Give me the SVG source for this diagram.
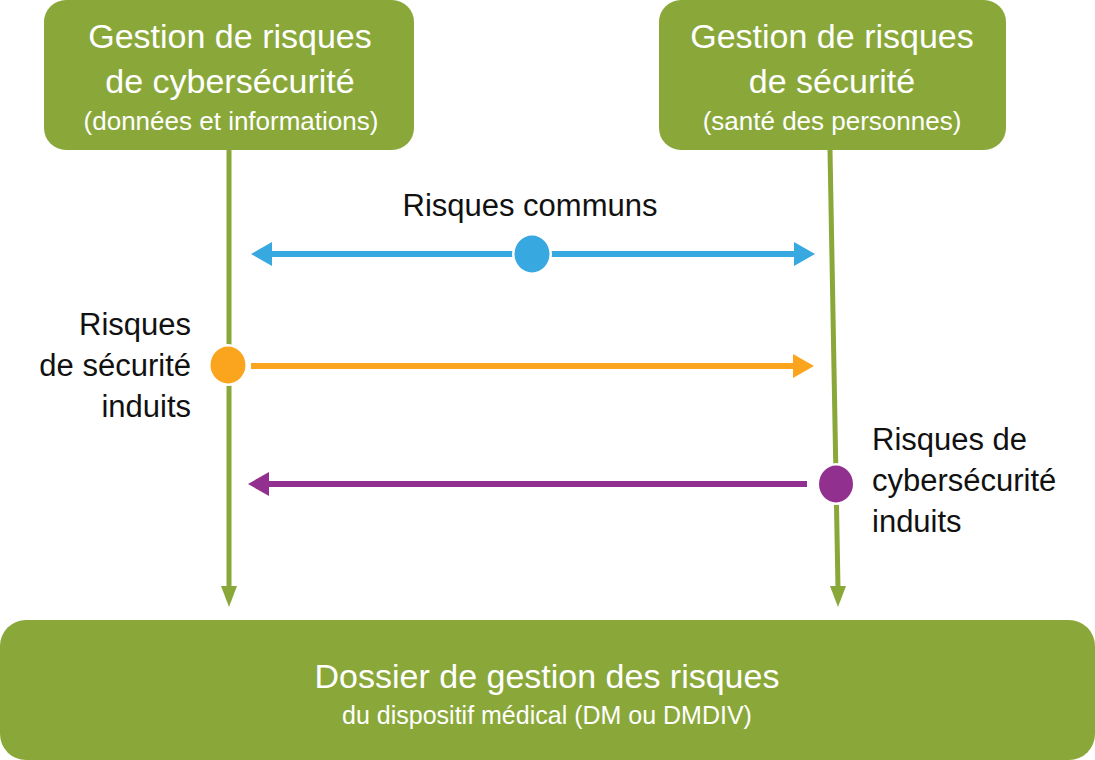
<svg xmlns="http://www.w3.org/2000/svg" width="1095" height="760" viewBox="0 0 1095 760">
<style>
.box{fill:#8AA83A}
.t{font-family:"Liberation Sans",Arial,sans-serif;fill:#fff;text-anchor:middle}
.l{font-family:"Liberation Sans",Arial,sans-serif;fill:#111;font-size:31px}
.g{stroke:#8AA83A;stroke-width:5;fill:none}
</style>
<rect width="1095" height="760" fill="#fff"/>
<g id="node-cyber">
<rect class="box" x="44" y="0" width="370" height="150" rx="22"/>
<text class="t" x="230" y="48" font-size="34">Gestion de risques</text>
<text class="t" x="230" y="93" font-size="34">de cybersécurité</text>
<text class="t" x="231" y="130" font-size="26">(données et informations)</text>
</g>
<g id="node-securite">
<rect class="box" x="659" y="0" width="347" height="150" rx="22"/>
<text class="t" x="832" y="48" font-size="34">Gestion de risques</text>
<text class="t" x="832" y="93" font-size="34">de sécurité</text>
<text class="t" x="832" y="130" font-size="26">(santé des personnes)</text>
</g>
<g id="node-dossier">
<rect class="box" x="0" y="620" width="1095" height="140" rx="26"/>
<text class="t" x="547" y="688" font-size="34">Dossier de gestion des risques</text>
<text class="t" x="547" y="724" font-size="25">du dispositif médical (DM ou DMDIV)</text>
</g>
<g id="connectors">
<path d="M229,150 V588" class="g"/>
<path d="M221,586 L237,586 L229,607 z" fill="#8AA83A"/>
<path d="M830,150 L838,588" class="g"/>
<path d="M830,586 L846,586 L838,607 z" fill="#8AA83A"/>
<path d="M270,254 H795" stroke="#38A8E0" stroke-width="6"/>
<path d="M251,254 L272,242 L272,266 z" fill="#38A8E0"/>
<path d="M815,254 L794,242 L794,266 z" fill="#38A8E0"/>
<ellipse cx="532" cy="254" rx="20" ry="21" fill="#fff"/>
<ellipse cx="532" cy="254" rx="17.5" ry="18.5" fill="#38A8E0"/>
<path d="M251,366 H795" stroke="#FBA51F" stroke-width="6"/>
<path d="M814,366 L793,354 L793,378 z" fill="#FBA51F"/>
<ellipse cx="228" cy="365" rx="20" ry="21" fill="#fff"/>
<ellipse cx="228" cy="365" rx="17.5" ry="18.5" fill="#FBA51F"/>
<path d="M807,484 H268" stroke="#92308F" stroke-width="6"/>
<path d="M248,484 L269,472 L269,496 z" fill="#92308F"/>
<ellipse cx="836" cy="484" rx="19" ry="21" fill="#fff"/>
<ellipse cx="836" cy="484" rx="17" ry="18.5" fill="#92308F"/>
</g>
<g id="labels">
<text class="l" x="530" y="216" text-anchor="middle">Risques communs</text>
<text class="l" x="191" y="335" text-anchor="end">Risques</text>
<text class="l" x="191" y="376" text-anchor="end">de sécurité</text>
<text class="l" x="191" y="417" text-anchor="end">induits</text>
<text class="l" x="872" y="450">Risques de</text>
<text class="l" x="872" y="491">cybersécurité</text>
<text class="l" x="872" y="532">induits</text>
</g>
</svg>
